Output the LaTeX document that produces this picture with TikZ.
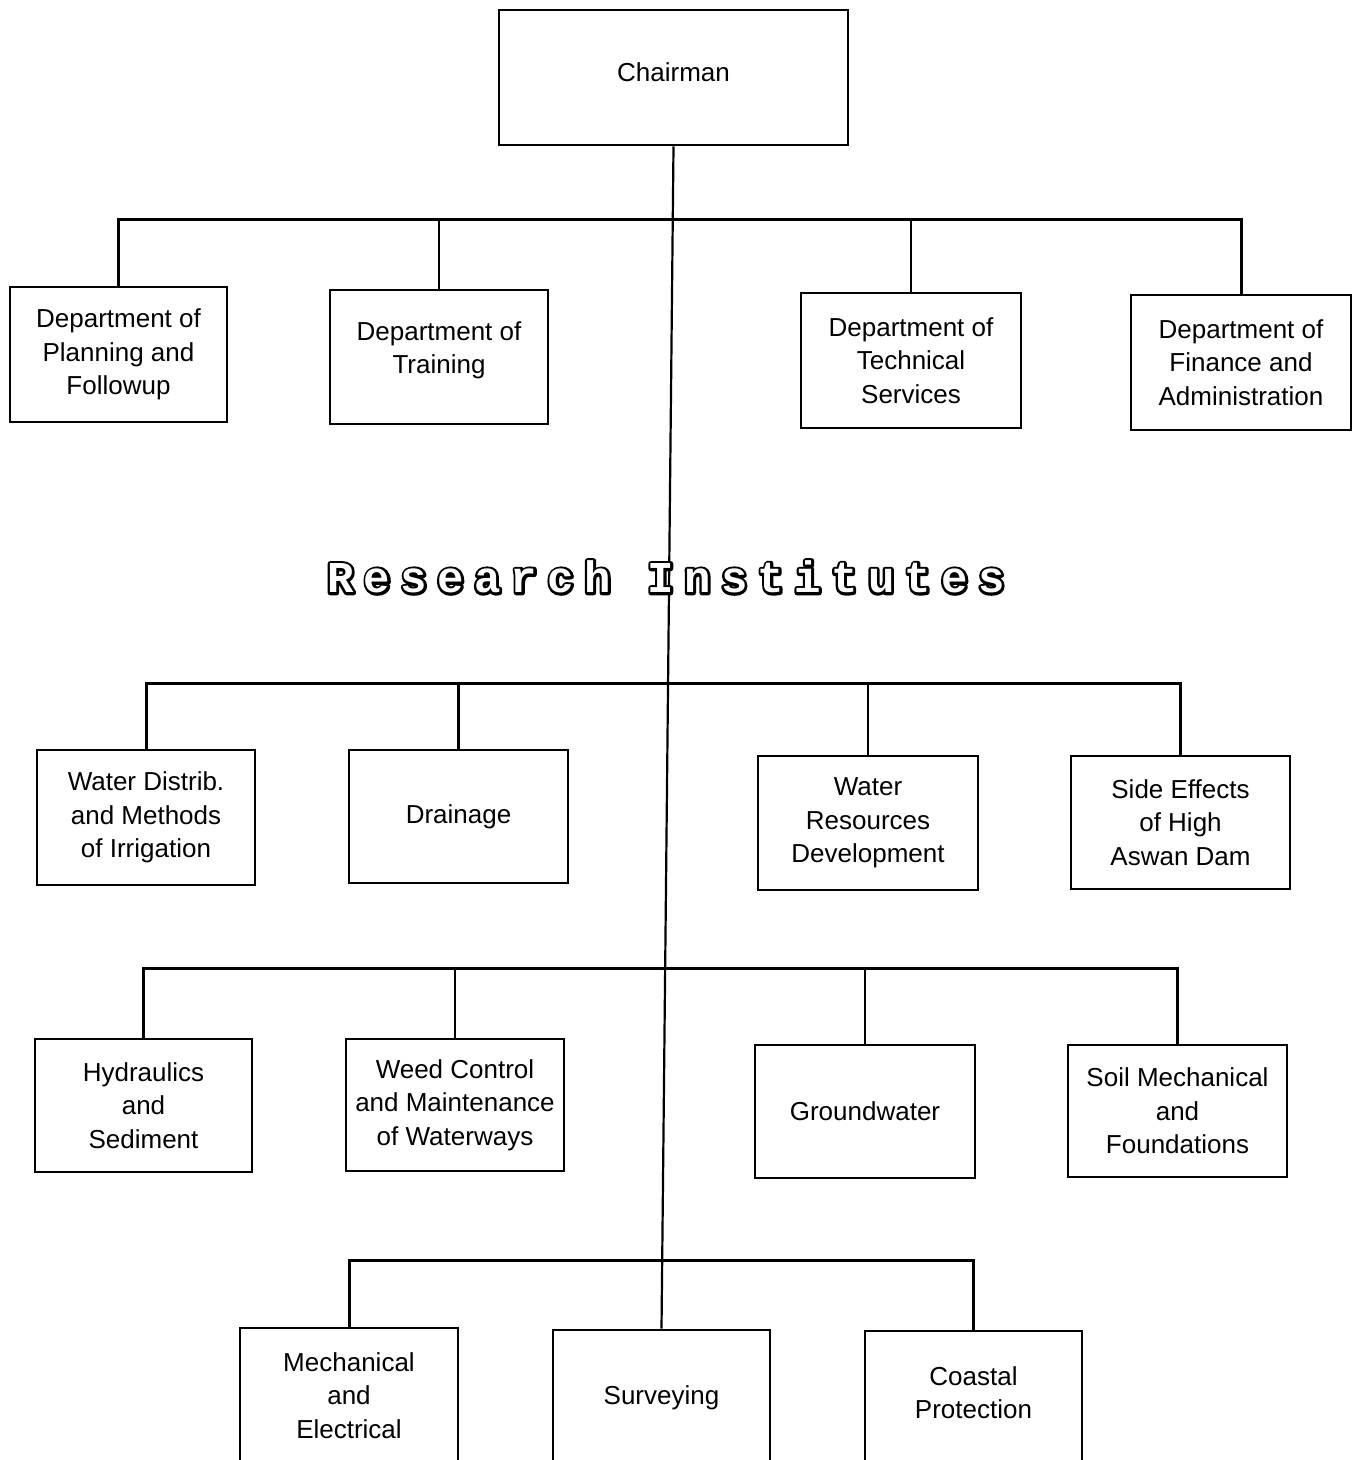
\documentclass[tikz,border=0pt]{standalone}
\usepackage{fontspec}
\setmainfont{Liberation Sans}
\newfontfamily\titlefont[LetterSpace=23.5]{Liberation Mono}
\newcommand{\hollowtext}[1]{\rlap{\special{pdf:code q 1 Tr 2.6 w 1 J 1 j}#1\special{pdf:code Q}}\textcolor{white}{#1}}
\begin{document}
\begin{tikzpicture}[x=0.5pt,y=-0.5pt,
  box/.style={draw,line width=1.4pt,align=center,inner sep=0pt,
    font=\fontsize{13}{16.8}\selectfont,minimum width=109pt,minimum height=67pt},
  conn/.style={line width=1.1pt},
  busline/.style={line width=1.5pt}]
\useasboundingbox (0,0) rectangle (1352,1460);
\clip (0,0) rectangle (1352,1460);
\fill[white] (0,0) rectangle (1352,1460);
% boxes
\node[box,minimum width=174.5pt,minimum height=67.5pt] (chair) at (673.5,77.5) {Chairman\\[-11pt]};
\node[box,minimum width=108.5pt,minimum height=67.5pt] (plan) at (118.5,354.5) {Department of\\Planning and\\Followup};
\node[box,minimum width=109pt,minimum height=67pt] (train) at (439,357) {Department of\\Training\\[-7.3pt]};
\node[box,minimum width=110pt,minimum height=67.5pt] (tech) at (911,360.5) {Department of\\Technical\\Services};
\node[box,minimum width=110pt,minimum height=67.5pt] (fin) at (1241,362.5) {Department of\\Finance and\\Administration};
\node[box,minimum width=109pt,minimum height=67.5pt] (wdist) at (146,817.5) {Water Distrib.\\and Methods\\of Irrigation};
\node[box,minimum width=109.5pt,minimum height=66.5pt] (drain) at (458.5,816.5) {Drainage};
\node[box,minimum width=110pt,minimum height=67pt] (wres) at (868,823) {Water\\Resources\\Development};
\node[box,minimum width=109.5pt,minimum height=66.5pt] (side) at (1180.5,822.5) {Side Effects\\of High\\Aswan Dam};
\node[box,minimum width=108.5pt,minimum height=66.5pt] (hyd) at (143.5,1105.5) {Hydraulics\\and\\Sediment};
\node[box,minimum width=109pt,minimum height=66pt] (weed) at (455,1105) {Weed Control\\and Maintenance\\of Waterways};
\node[box,minimum width=110pt,minimum height=66.5pt] (ground) at (865,1111.5) {Groundwater};
\node[box,minimum width=109.5pt,minimum height=66pt] (soil) at (1177.5,1111) {Soil Mechanical\\and\\Foundations};
\node[box,minimum width=109pt,minimum height=67.5pt] (mech) at (349,1395.5) {Mechanical\\and\\Electrical};
\node[box,minimum width=108.5pt,minimum height=67.5pt] (surv) at (661.5,1397.5) {Surveying};
\node[box,minimum width=108.5pt,minimum height=67.5pt] (coast) at (973.5,1398.5) {Coastal\\Protection\\[-10.8pt]};
% trunk
\draw[conn] (chair.south) -- (surv.north);
% buses
\coordinate (b1) at (670,220);
\coordinate (b2) at (665,683);
\coordinate (b3) at (662,968);
\coordinate (b4) at (659,1260);
\draw[busline] (plan.north) |- (b1) -| (fin.north);
\draw[conn] (train.north) -- (train.north |- b1);
\draw[conn] (tech.north) -- (tech.north |- b1);
\draw[busline] (wdist.north) |- (b2) -| (side.north);
\draw[conn] (drain.north) -- (drain.north |- b2);
\draw[conn] (wres.north) -- (wres.north |- b2);
\draw[busline] (hyd.north) |- (b3) -| (soil.north);
\draw[conn] (weed.north) -- (weed.north |- b3);
\draw[conn] (ground.north) -- (ground.north |- b3);
\draw[busline] (mech.north) |- (b4) -| (coast.north);
% title
\node[inner sep=0pt] (title) at (666,577) {\fontsize{22}{24}\titlefont\bfseries\hollowtext{Research Institutes}};
\end{tikzpicture}
\end{document}
